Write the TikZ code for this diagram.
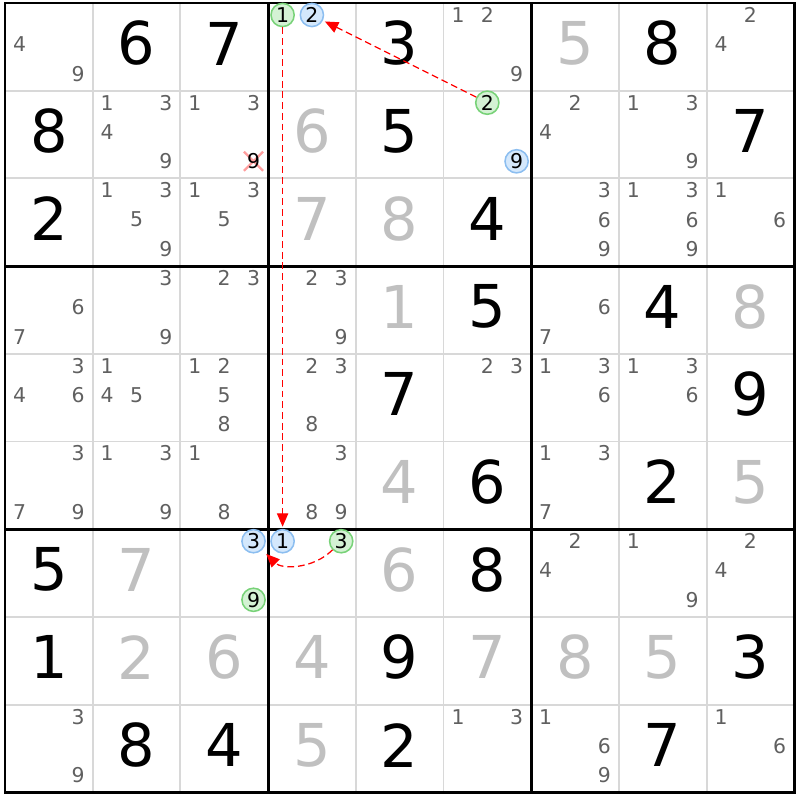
\documentclass[tikz,border=0pt]{standalone}
\usepackage{fontspec}
\setmainfont{DejaVu Sans}
\usetikzlibrary{positioning,shapes.misc,arrows.meta}
\definecolor{gridgray}{RGB}{216,216,216}
\definecolor{candgray}{RGB}{96,96,96}
\definecolor{solvgray}{RGB}{192,192,192}
\definecolor{ongreen}{RGB}{212,242,212}
\definecolor{ongreenline}{RGB}{120,210,120}
\definecolor{offblue}{RGB}{212,232,252}
\definecolor{offblueline}{RGB}{140,190,240}

\begin{document}
\begin{tikzpicture}[
x=0.025cm, y=0.025cm,
cellline/.style={draw=gridgray, line width=1.4pt},
boxline/.style={draw=black, line width=2.1pt},
given/.style={font=\fontsize{42}{42}\selectfont, inner sep=0pt},
solved/.style={given, text=solvgray},
cand/.style={font=\fontsize{14.5}{15}\selectfont, text=candgray, inner sep=0pt},
ringon/.style={cand, text=black, circle, draw=ongreenline, fill=ongreen, line width=1.1pt, minimum size=16.5pt},
ringoff/.style={ringon, draw=offblueline, fill=offblue},
link/.style={red, line width=0.9pt, dash pattern=on 4.8pt off 2.8pt, -{Triangle[length=9.5pt,width=8pt]}, shorten >=1.5pt}]

\useasboundingbox (0,0) rectangle (800,800);

\foreach \i in {1,2,4,5,7,8} {
  \draw[cellline] ({5+87.7*\i},797) -- ({5+87.7*\i},7.7);
  \draw[cellline] (5,{797-87.7*\i}) -- (794.3,{797-87.7*\i});
}
\foreach \i in {3,6} {
  \draw[boxline] ({5+87.7*\i},797) -- ({5+87.7*\i},7.7);
  \draw[boxline] (5,{797-87.7*\i}) -- (794.3,{797-87.7*\i});
}
\draw[boxline] (5,797) rectangle (794.3,7.7);

\foreach \c/\r/\v in {1/0/6,2/0/7,4/0/3,7/0/8,0/1/8,4/1/5,8/1/7,0/2/2,5/2/4,5/3/5,7/3/4,4/4/7,8/4/9,
  5/5/6,7/5/2,0/6/5,5/6/8,0/7/1,4/7/9,8/7/3,1/8/8,2/8/4,4/8/2,7/8/7}
  \node[given] (v\c\r) at ({5+87.7*(\c+.5)},{756.5-87.7*\r}) {\v};

\foreach \c/\r/\v in {6/0/5,3/1/6,3/2/7,4/2/8,4/3/1,8/3/8,4/5/4,8/5/5,1/6/7,4/6/6,1/7/2,2/7/6,3/7/4,
  5/7/7,6/7/8,7/7/5,3/8/5}
  \node[solved] (s\c\r) at ({5+87.7*(\c+.5)},{756.5-87.7*\r}) {\v};

\foreach \c/\r/\l in {0/0/{4,9},5/0/{1,2,9},8/0/{2,4},
  1/1/{1,3,4,9},2/1/{1,3},6/1/{2,4},7/1/{1,3,9},
  1/2/{1,3,5,9},2/2/{1,3,5},6/2/{3,6,9},7/2/{1,3,6,9},8/2/{1,6},
  0/3/{6,7},1/3/{3,9},2/3/{2,3},3/3/{2,3,9},6/3/{6,7},
  0/4/{3,4,6},1/4/{1,4,5},2/4/{1,2,5,8},3/4/{2,3,8},5/4/{2,3},6/4/{1,3,6},7/4/{1,3,6},
  0/5/{3,7,9},1/5/{1,3,9},2/5/{1,8},3/5/{3,8,9},6/5/{1,3,7},
  6/6/{2,4},7/6/{1,9},8/6/{2,4},
  0/8/{3,9},5/8/{1,3},6/8/{1,6,9},8/8/{1,6}}
  \foreach \d in \l
    \node[cand] (n\c\r\d) at ({19.5+87.7*\c+29.3*mod(\d-1,3)},{785-87.7*\r-29.3*int((\d-1)/3)}) {\d};

\node[cross out, draw=red!38, line width=1.6pt, minimum size=12pt, inner sep=0pt] (x9) at (253.5,638.7) {};
\node[cand, text=black] (n219) at (253.5,638.7) {9};

\node[ringon] (g1) at (282.6,785) {1};
\node[ringoff] (b2) at (311.9,785) {2};
\node[ringon] (g2) at (487.3,697.3) {2};
\node[ringoff] (b9) at (516.6,638.7) {9};
\node[ringoff] (b3) at (253.5,258.8) {3};
\node[ringon] (g9) at (253.5,200.2) {9};
\node[ringoff] (b1) at (282.6,258.8) {1};
\node[ringon] (g3) at (341.2,258.8) {3};

\draw[link] (g1) -- (b1);
\draw[link] (g2) -- (b2);
\draw[link, shorten >=4pt] (g3) to[bend left=45] (b3);
\end{tikzpicture}
\end{document}
